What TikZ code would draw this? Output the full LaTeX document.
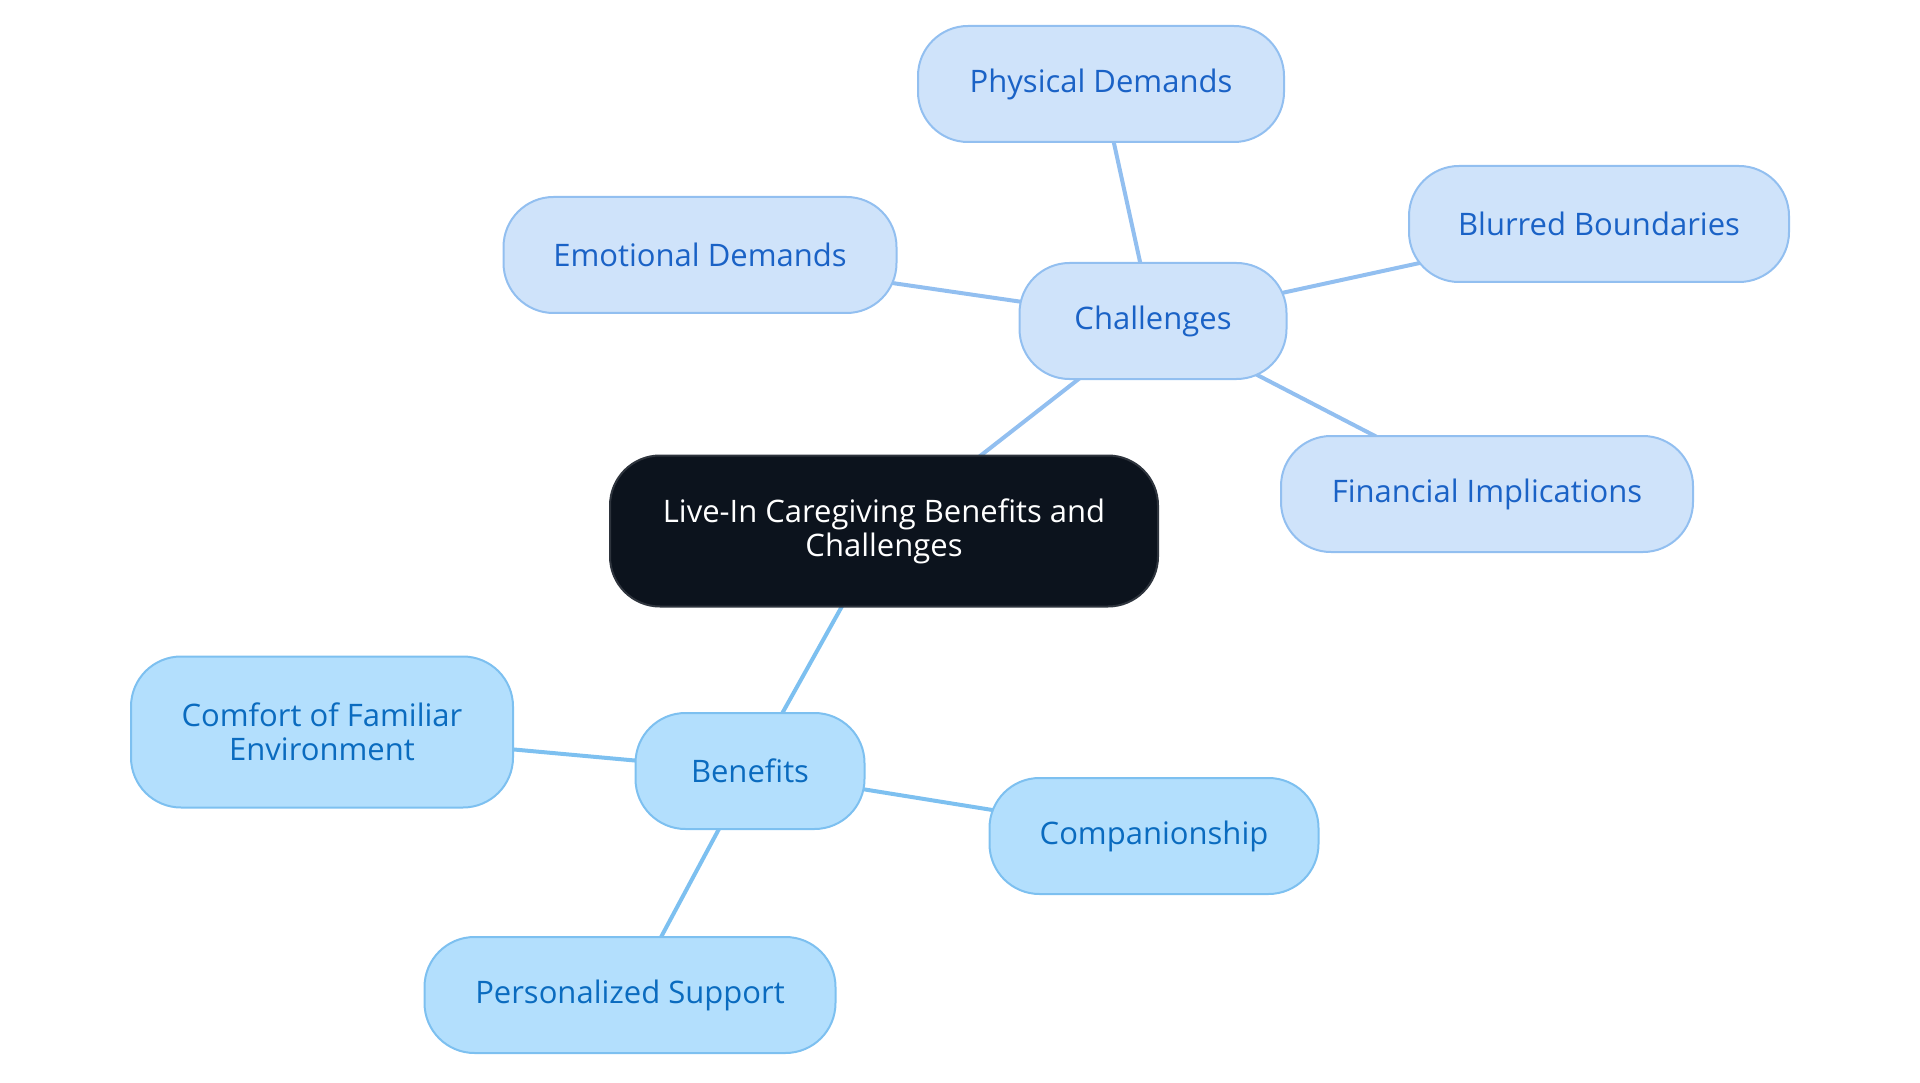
\documentclass[tikz,border=0pt]{standalone}
\usepackage{fontspec}
\setmainfont{Open Sans}
\usetikzlibrary{backgrounds}

\definecolor{rootfill}{HTML}{0C131D}
\definecolor{rootdraw}{HTML}{2E343D}
\definecolor{chfill}{HTML}{CFE3FA}
\definecolor{chdraw}{HTML}{92BFF0}
\definecolor{chtext}{HTML}{1A62C6}
\definecolor{bnfill}{HTML}{B3DFFD}
\definecolor{bndraw}{HTML}{7DC0F0}
\definecolor{bntext}{HTML}{0A6BBF}

\tikzset{
  pill/.style={rounded corners=50pt, line width=2pt, minimum height=116pt,
    align=center, inner sep=0pt,
    font=\fontsize{31}{34}\selectfont},
  root/.style={pill, fill=rootfill, draw=rootdraw, text=white,
    minimum height=151pt, minimum width=548pt},
  chal/.style={pill, fill=chfill, draw=chdraw, text=chtext},
  bene/.style={pill, fill=bnfill, draw=bndraw, text=bntext},
  chline/.style={draw=chdraw, line width=4pt},
  beline/.style={draw=bndraw, line width=4pt}
}

\begin{document}
\begin{tikzpicture}[x=1pt,y=-1pt]
  \useasboundingbox (0,0) rectangle (1920,1083);

  \node[root] (live) at (884,531) {Live-In Caregiving Benefits and\\Challenges};

  % challenges side
  \node[chal, minimum width=267pt] (chal) at (1153,321) {Challenges};
  \node[chal, minimum width=366pt] (phys) at (1101,84) {Physical Demands};
  \node[chal, minimum width=380pt] (blur) at (1599,224) {Blurred Boundaries};
  \node[chal, minimum width=393pt] (emot) at (700,255) {Emotional Demands};
  \node[chal, minimum width=412pt] (fin) at (1487,494) {Financial Implications};

  % benefits side
  \node[bene, minimum width=229pt] (bene) at (750,771) {Benefits};
  \node[bene, minimum width=382pt, minimum height=151pt] (comf) at (322,732) {Comfort of Familiar\\Environment};
  \node[bene, minimum width=329pt] (comp) at (1154,836) {Companionship};
  \node[bene, minimum width=411pt] (pers) at (630,995) {Personalized Support};

  \begin{scope}[on background layer]
    \draw[chline] (live.center) -- (chal.center);
    \foreach \n in {phys,blur,emot,fin}
      \draw[chline] (chal.center) -- (\n.center);
    \draw[beline] (live.center) -- (bene.center);
    \foreach \n in {comf,comp,pers}
      \draw[beline] (bene.center) -- (\n.center);
  \end{scope}
\end{tikzpicture}
\end{document}
